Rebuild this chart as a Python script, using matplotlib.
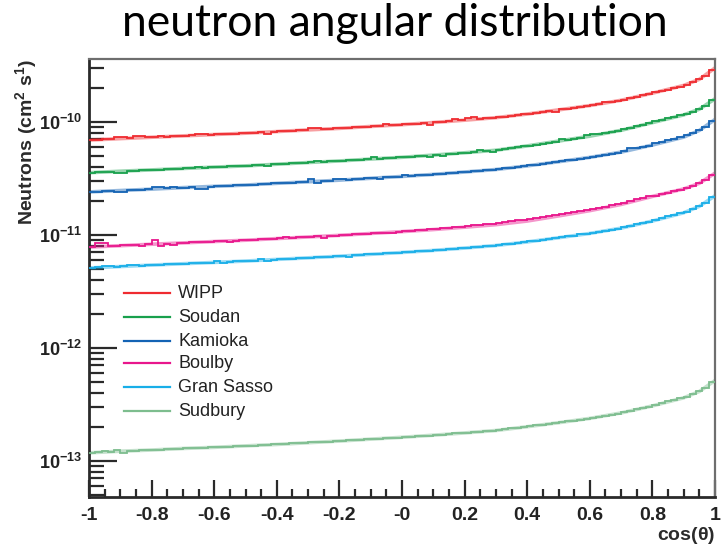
import numpy as np
import matplotlib
matplotlib.use("Agg")
import matplotlib.pyplot as plt
from matplotlib.ticker import FixedLocator, FixedFormatter, LogLocator, NullFormatter, MultipleLocator

plt.rcParams["font.family"] = ["Liberation Sans", "DejaVu Sans"]
plt.rcParams["mathtext.fontset"] = "custom"
plt.rcParams["mathtext.rm"] = "Liberation Sans:bold"
plt.rcParams["mathtext.bf"] = "Liberation Sans:bold"
plt.rcParams["axes.unicode_minus"] = False

# ---- data: neutron flux per cos(theta) bin (100 bins from -1 to 1) ----
n_bins = 100
x_range = (-1.0, 1.0)

# units of 1e-11 cm^-2 s^-1
wipp = [6.92, 6.96, 7.00, 7.04, 7.30, 7.34, 7.17, 7.43, 7.47, 7.29,
        7.33, 7.53, 7.42, 7.46, 7.50, 7.54, 7.73, 7.77, 7.80, 7.71,
        7.75, 7.79, 7.83, 7.87, 7.91, 7.96, 8.02, 8.07, 7.89, 8.18,
        8.24, 8.29, 8.35, 8.40, 8.46, 8.77, 8.83, 8.63, 8.68, 8.91,
        8.80, 8.87, 8.94, 9.00, 9.07, 9.14, 9.21, 9.65, 9.35, 9.42,
        9.49, 9.58, 9.66, 9.74, 9.44, 9.92, 10.01, 10.11, 10.52, 10.30,
        10.83, 10.94, 10.63, 10.74, 10.85, 10.98, 11.15, 11.32, 11.48, 11.65,
        11.83, 12.04, 12.25, 12.45, 12.15, 12.88, 13.12, 13.35, 13.59, 13.82,
        14.10, 14.41, 15.02, 15.05, 15.37, 15.77, 16.25, 16.73, 17.22, 17.70,
        18.22, 18.77, 19.32, 19.87, 20.42, 21.3, 22.4, 23.8, 25.6, 29.0]
soudan = [3.56, 3.58, 3.60, 3.62, 3.54, 3.56, 3.69, 3.71, 3.73, 3.75,
          3.77, 3.79, 3.82, 3.84, 3.86, 3.88, 3.90, 4.02, 3.94, 3.97,
          3.99, 4.01, 4.03, 4.05, 4.07, 4.10, 4.13, 4.15, 4.06, 4.21,
          4.24, 4.27, 4.30, 4.32, 4.35, 4.38, 4.53, 4.44, 4.47, 4.49,
          4.53, 4.56, 4.60, 4.63, 4.67, 4.85, 4.74, 4.77, 4.81, 4.85,
          4.88, 4.93, 4.97, 5.01, 4.90, 5.10, 5.00, 5.20, 5.25, 5.30,
          5.35, 5.41, 5.62, 5.52, 5.45, 5.66, 5.76, 5.86, 5.96, 6.06,
          6.18, 6.30, 6.43, 6.56, 6.68, 7.02, 6.96, 7.10, 7.25, 7.60,
          7.78, 7.76, 7.95, 8.14, 8.35, 8.59, 8.89, 9.18, 9.48, 9.78,
          10.09, 10.43, 10.76, 11.10, 11.45, 11.84, 12.33, 13.07, 13.90, 15.5]
kamioka = [2.41, 2.42, 2.44, 2.45, 2.38, 2.40, 2.49, 2.51, 2.52, 2.54,
           2.68, 2.68, 2.58, 2.68, 2.61, 2.62, 2.64, 2.55, 2.57, 2.68,
           2.70, 2.71, 2.72, 2.74, 2.75, 2.77, 2.79, 2.81, 2.83, 2.85,
           2.87, 2.88, 2.90, 2.92, 2.94, 3.11, 2.88, 3.00, 3.02, 3.14,
           3.15, 3.08, 3.11, 3.13, 3.16, 3.18, 3.10, 3.23, 3.25, 3.28,
           3.36, 3.33, 3.36, 3.39, 3.42, 3.45, 3.48, 3.52, 3.55, 3.58,
           3.62, 3.66, 3.70, 3.73, 3.77, 3.82, 3.88, 3.94, 3.99, 4.05,
           4.12, 4.19, 4.26, 4.33, 4.40, 4.48, 4.56, 4.64, 4.73, 4.81,
           4.90, 5.01, 5.12, 5.23, 5.34, 5.48, 5.85, 5.82, 5.99, 6.16,
           6.45, 6.66, 6.88, 7.10, 7.33, 7.60, 7.95, 8.45, 9.05, 10.2]
boulby = [0.782, 0.840, 0.840, 0.796, 0.801, 0.806, 0.810, 0.815, 0.790, 0.824,
          0.895, 0.800, 0.839, 0.820, 0.848, 0.853, 0.857, 0.862, 0.867, 0.871,
          0.876, 0.881, 0.860, 0.890, 0.895, 0.900, 0.906, 0.913, 0.919, 0.925,
          0.931, 0.965, 0.944, 0.950, 0.956, 0.963, 0.969, 0.940, 0.981, 0.987,
          0.995, 1.002, 1.010, 1.018, 1.026, 1.034, 1.041, 1.049, 1.030, 1.065,
          1.073, 1.085, 1.096, 1.108, 1.120, 1.132, 1.146, 1.159, 1.172, 1.186,
          1.200, 1.215, 1.230, 1.246, 1.260, 1.279, 1.300, 1.322, 1.345, 1.367,
          1.392, 1.418, 1.446, 1.473, 1.500, 1.529, 1.560, 1.590, 1.622, 1.653,
          1.690, 1.733, 1.778, 1.823, 1.869, 1.925, 1.991, 2.058, 2.125, 2.193,
          2.224, 2.296, 2.367, 2.439, 2.512, 2.593, 2.701, 2.859, 3.035, 3.383]
gran_sasso = [0.512, 0.515, 0.535, 0.535, 0.524, 0.527, 0.545, 0.545, 0.536, 0.539,
              0.542, 0.545, 0.548, 0.551, 0.554, 0.557, 0.560, 0.564, 0.567, 0.570,
              0.590, 0.562, 0.579, 0.582, 0.585, 0.589, 0.593, 0.615, 0.585, 0.605,
              0.609, 0.613, 0.617, 0.621, 0.625, 0.629, 0.633, 0.638, 0.642, 0.646,
              0.650, 0.638, 0.660, 0.666, 0.671, 0.676, 0.681, 0.686, 0.691, 0.696,
              0.702, 0.708, 0.714, 0.720, 0.726, 0.733, 0.740, 0.747, 0.754, 0.761,
              0.769, 0.777, 0.785, 0.794, 0.802, 0.812, 0.824, 0.836, 0.849, 0.861,
              0.875, 0.890, 0.905, 0.921, 0.936, 0.952, 0.970, 0.987, 1.020, 1.022,
              1.042, 1.065, 1.089, 1.112, 1.136, 1.165, 1.201, 1.237, 1.272, 1.308,
              1.360, 1.410, 1.460, 1.510, 1.560, 1.610, 1.690, 1.790, 1.910, 2.150]
# units of 1e-13 cm^-2 s^-1
sudbury = [1.18, 1.19, 1.23, 1.20, 1.25, 1.18, 1.23, 1.23, 1.24, 1.25,
           1.25, 1.26, 1.27, 1.28, 1.28, 1.29, 1.30, 1.30, 1.31, 1.32,
           1.33, 1.33, 1.34, 1.35, 1.35, 1.36, 1.37, 1.38, 1.39, 1.40,
           1.41, 1.42, 1.43, 1.44, 1.45, 1.46, 1.47, 1.48, 1.48, 1.49,
           1.50, 1.52, 1.53, 1.54, 1.55, 1.56, 1.58, 1.59, 1.60, 1.61,
           1.62, 1.64, 1.65, 1.67, 1.68, 1.70, 1.71, 1.73, 1.75, 1.76,
           1.78, 1.80, 1.82, 1.84, 1.85, 1.88, 1.91, 1.94, 1.96, 1.99,
           2.02, 2.06, 2.09, 2.13, 2.17, 2.20, 2.24, 2.28, 2.32, 2.36,
           2.41, 2.47, 2.52, 2.57, 2.63, 2.70, 2.78, 2.86, 2.94, 3.03,
           3.15, 3.25, 3.36, 3.47, 3.58, 3.71, 3.88, 4.12, 4.42, 4.95]

# smooth fit curves, sampled at these cos(theta) values
fit_x = [-1.0, -0.9, -0.8, -0.7, -0.6, -0.5, -0.4, -0.3, -0.2, -0.1, 0.0,
         0.1, 0.2, 0.3, 0.4, 0.5, 0.6, 0.7, 0.8, 0.9, 0.95, 1.0]
fit_wipp = [6.90, 7.11, 7.31, 7.52, 7.73, 7.94, 8.21, 8.49, 8.76, 9.11, 9.45,
            9.87, 10.35, 10.90, 11.73, 12.77, 13.94, 15.53, 17.94, 21.0, 23.8, 30.0]
fit_soudan = [3.55, 3.66, 3.76, 3.87, 3.98, 4.08, 4.22, 4.37, 4.51, 4.69, 4.86,
              5.08, 5.33, 5.61, 6.13, 6.76, 7.47, 8.42, 9.85, 11.53, 12.95, 16.0]
fit_kamioka = [2.40, 2.47, 2.54, 2.62, 2.69, 2.76, 2.86, 2.95, 3.05, 3.17, 3.29,
               3.43, 3.60, 3.79, 4.08, 4.44, 4.85, 5.40, 6.24, 7.33, 8.40, 10.5]
fit_boulby = [0.780, 0.803, 0.827, 0.850, 0.874, 0.897, 0.928, 0.959, 0.991, 1.030, 1.069,
              1.115, 1.170, 1.232, 1.326, 1.472, 1.639, 1.860, 2.190, 2.551, 2.861, 3.518]
fit_gran_sasso = [0.510, 0.525, 0.541, 0.556, 0.571, 0.587, 0.607, 0.627, 0.648, 0.673, 0.699,
                  0.729, 0.765, 0.806, 0.867, 0.944, 1.030, 1.148, 1.326, 1.570, 1.790, 2.220]
fit_sudbury = [1.18, 1.22, 1.25, 1.29, 1.32, 1.36, 1.40, 1.45, 1.50, 1.56, 1.62,
               1.69, 1.77, 1.86, 2.01, 2.18, 2.38, 2.66, 3.07, 3.62, 4.12, 5.15]

labels = ["WIPP", "Soudan", "Kamioka", "Boulby", "Gran Sasso", "Sudbury"]
colors = ["#ef2b30", "#18a04c", "#1463b4", "#e8168c", "#18aee8", "#7dbd8e"]
unit_scale = [1e-11, 1e-11, 1e-11, 1e-11, 1e-11, 1e-13]
hist_values = [wipp, soudan, kamioka, boulby, gran_sasso, sudbury]
fit_values = [fit_wipp, fit_soudan, fit_kamioka, fit_boulby, fit_gran_sasso, fit_sudbury]

x_ticks = [-1.0, -0.8, -0.6, -0.4, -0.2, 0.0, 0.2, 0.4, 0.6, 0.8, 1.0]
x_tick_labels = ["-1", "-0.8", "-0.6", "-0.4", "-0.2", "-0", "0.2", "0.4", "0.6", "0.8", "1"]
y_ticks = [1e-13, 1e-12, 1e-11, 1e-10]
y_tick_labels = [r"$\mathbf{10^{-13}}$", r"$\mathbf{10^{-12}}$",
                 r"$\mathbf{10^{-11}}$", r"$\mathbf{10^{-10}}$"]
y_limits = (4.8e-14, 3.6e-10)

# ---- figure ----
W, H = 721, 547
fig = plt.figure(figsize=(W / 100, H / 100), dpi=100)
ax = fig.add_axes([89 / W, (H - 497) / H, (715 - 89) / W, (497 - 59) / H])

edges = np.linspace(x_range[0], x_range[1], n_bins + 1)
for vals, fvals, sc, col in zip(hist_values, fit_values, unit_scale, colors):
    v = np.asarray(vals) * sc
    f = np.asarray(fvals) * sc
    ax.plot(fit_x, f, color=col, lw=2.6, alpha=0.45, solid_capstyle="butt", zorder=2)
    ax.stairs(v, edges, baseline=None, color=col, lw=1.3, zorder=3)

ax.set_yscale("log")
ax.set_xlim(*x_range)
ax.set_ylim(*y_limits)

ax.xaxis.set_major_locator(FixedLocator(x_ticks))
ax.xaxis.set_major_formatter(FixedFormatter(x_tick_labels))
ax.xaxis.set_minor_locator(MultipleLocator(0.05))
ax.yaxis.set_major_locator(FixedLocator(y_ticks))
ax.yaxis.set_major_formatter(FixedFormatter(y_tick_labels))
ax.yaxis.set_minor_locator(LogLocator(base=10, subs=np.arange(2, 10)))
ax.yaxis.set_minor_formatter(NullFormatter())

ax.tick_params(which="both", direction="in", colors="#2a2a2a", top=False, right=False)
ax.tick_params(axis="y", which="major", length=20, width=1.6, labelsize=13, pad=5)
ax.tick_params(axis="y", which="minor", length=11, width=1.6)
ax.tick_params(axis="x", which="major", length=12, width=1.6, labelsize=14, pad=7)
ax.tick_params(axis="x", which="minor", length=6, width=1.6)
for lab in ax.get_xticklabels():
    lab.set_fontweight("bold")
    lab.set_color("#222222")
for lab in ax.get_yticklabels():
    lab.set_color("#222222")

for side in ("left", "bottom"):
    ax.spines[side].set_linewidth(2.0)
    ax.spines[side].set_color("#2a2a2a")
for side in ("top", "right"):
    ax.spines[side].set_linewidth(1.6)
    ax.spines[side].set_color("#6e6e6e")

# axis titles
ax.text((27 - 89) / (715 - 89), 1.0, r"Neutrons (cm$^{\mathbf{2}}$ s$^{\mathbf{1}}$)",
        transform=ax.transAxes, rotation=90, ha="center", va="top",
        fontsize=14, fontweight="bold", color="#2a2a2a")
ax.text(1.0, (497 - 535) / (497 - 59), r"cos($\mathbf{\theta}$)", transform=ax.transAxes,
        ha="right", va="center", fontsize=14, fontweight="bold", color="#2a2a2a")

# legend
legend_rows = [293, 317, 341, 363, 387, 411]
for lab, col, ypix in zip(labels, colors, legend_rows):
    yf = (497 - ypix) / (497 - 59)
    ax.plot([(124 - 89) / 626, (170 - 89) / 626], [yf, yf], transform=ax.transAxes,
            color=col, lw=1.6, clip_on=False)
    ax.text((178 - 89) / 626, yf, lab, transform=ax.transAxes, ha="left", va="center",
            fontsize=13, color="#222222")

fig.text(395 / W, 1 - 23 / H, "neutron angular distribution", ha="center", va="center",
         fontsize=32, family=["Lato", "DejaVu Sans"], color="#000000")

fig.savefig("out.png", dpi=100)
